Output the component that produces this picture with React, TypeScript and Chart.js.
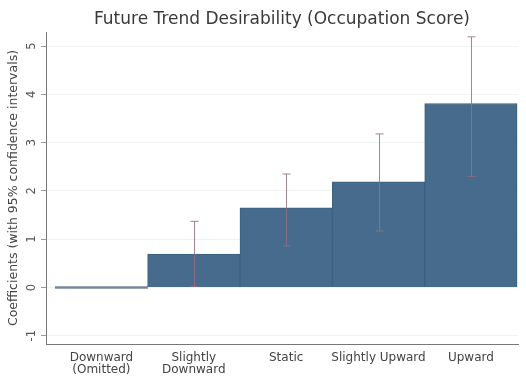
import React, { useEffect, useRef } from "react";
import { Chart, registerables } from "chart.js";

Chart.register(...registerables);

const categories: (string | string[])[] = [
  ["Downward", "(Omitted)"],
  ["Slightly", "Downward"],
  "Static",
  "Slightly Upward",
  "Upward",
];
const coefficients = [0, 0.69, 1.65, 2.19, 3.81];
const ciLow = [0, 0.02, 0.86, 1.17, 2.3];
const ciHigh = [0, 1.37, 2.35, 3.18, 5.19];
const yTicks = [-1, 0, 1, 2, 3, 4, 5];

const FONT = "'DejaVu Sans', 'Liberation Sans', Arial, sans-serif";

const errorBarPlugin = {
  id: "errorBars",
  afterDatasetsDraw(chart: any) {
    const xs = chart.scales.x;
    const ys = chart.scales.y;
    const ctx = chart.ctx;
    ctx.save();
    ctx.strokeStyle = "rgba(150,112,128,0.85)";
    ctx.lineWidth = 1;
    for (let i = 0; i < coefficients.length; i++) {
      if (ciLow[i] === ciHigh[i]) continue;
      const x = Math.round(xs.getPixelForValue(i)) + 0.5;
      const y1 = ys.getPixelForValue(ciLow[i]);
      const y2 = ys.getPixelForValue(ciHigh[i]);
      ctx.beginPath();
      ctx.moveTo(x, y1);
      ctx.lineTo(x, y2);
      ctx.moveTo(x - 4, y1);
      ctx.lineTo(x + 4, y1);
      ctx.moveTo(x - 4, y2);
      ctx.lineTo(x + 4, y2);
      ctx.stroke();
    }
    ctx.restore();
  },
};

const yLabelPlugin = {
  id: "yLabels",
  afterDraw(chart: any) {
    const ys = chart.scales.y;
    const ctx = chart.ctx;
    ctx.save();
    ctx.fillStyle = "#555";
    ctx.font = `11.5px ${FONT}`;
    ctx.textAlign = "center";
    ctx.textBaseline = "middle";
    for (const v of yTicks) {
      const y = ys.getPixelForValue(v);
      ctx.save();
      ctx.translate(32, y);
      ctx.rotate(-Math.PI / 2);
      ctx.fillText(String(v), 0, 0);
      ctx.restore();
    }
    ctx.restore();
  },
};

export default function App() {
  const ref = useRef<HTMLCanvasElement | null>(null);
  useEffect(() => {
    document.body.style.margin = "0";
    const canvas = ref.current!;
    const chart = new Chart(canvas, {
      type: "bar",
      data: {
        datasets: [
          {
            data: coefficients.map((v, i) => ({ x: i, y: v })),
            backgroundColor: coefficients.map((_, i) => (i === 0 ? "#75879b" : "#466b8d")),
            borderColor: "#3d6080",
            borderWidth: coefficients.map((_, i) => (i === 0 ? 0 : 1)),
            barPercentage: 1,
            categoryPercentage: 1,
            minBarLength: 2,
          },
        ],
      },
      options: {
        responsive: false,
        animation: false,
        layout: { padding: { left: 0, right: 8, top: 0, bottom: 0 } },
        plugins: {
          legend: { display: false },
          tooltip: { enabled: false },
          title: {
            display: true,
            text: "Future Trend Desirability (Occupation Score)",
            fullSize: false,
            color: "#3a3a3a",
            font: { family: FONT, size: 17, weight: "normal", lineHeight: 1.2 },
            padding: { top: 9, bottom: 2.6 },
          },
        },
        scales: {
          x: {
            type: "linear",
            offset: false,
            min: -0.6,
            max: 4.51,
            afterBuildTicks: (scale: any) => {
              scale.ticks = categories.map((_, i) => ({ value: i }));
            },
            afterFit: (scale: any) => {
              scale.height = 35;
            },
            grid: { display: false, drawTicks: false, offset: false },
            border: { display: true, color: "#777", width: 1 },
            ticks: {
              autoSkip: false,
              maxRotation: 0,
              minRotation: 0,
              padding: 7.5,
              color: "#444",
              font: { family: FONT, size: 12, lineHeight: 1.03 },
              callback: (v: any) => categories[v as number] as any,
            },
          },
          y: {
            min: -1.17,
            max: 5.29,
            afterBuildTicks: (scale: any) => {
              scale.ticks = yTicks.map((v) => ({ value: v }));
            },
            afterFit: (scale: any) => {
              scale.width = 46;
            },
            grid: {
              color: "#f0f3f6",
              tickColor: "#999",
              tickLength: 5,
              drawTicks: true,
            },
            border: { display: true, color: "#777", width: 1 },
            ticks: { display: false },
            title: {
              display: true,
              text: "Coefficients (with 95% confidence intervals)",
              color: "#444",
              font: { family: FONT, size: 12.5, lineHeight: 1.2 },
              padding: { top: 6, bottom: 0 },
            },
          },
        },
      },
      plugins: [errorBarPlugin, yLabelPlugin],
    });
    return () => chart.destroy();
  }, []);
  return (
    <div style={{ width: 526, height: 379, background: "#fff" }}>
      <canvas ref={ref} width={526} height={379} />
    </div>
  );
}
